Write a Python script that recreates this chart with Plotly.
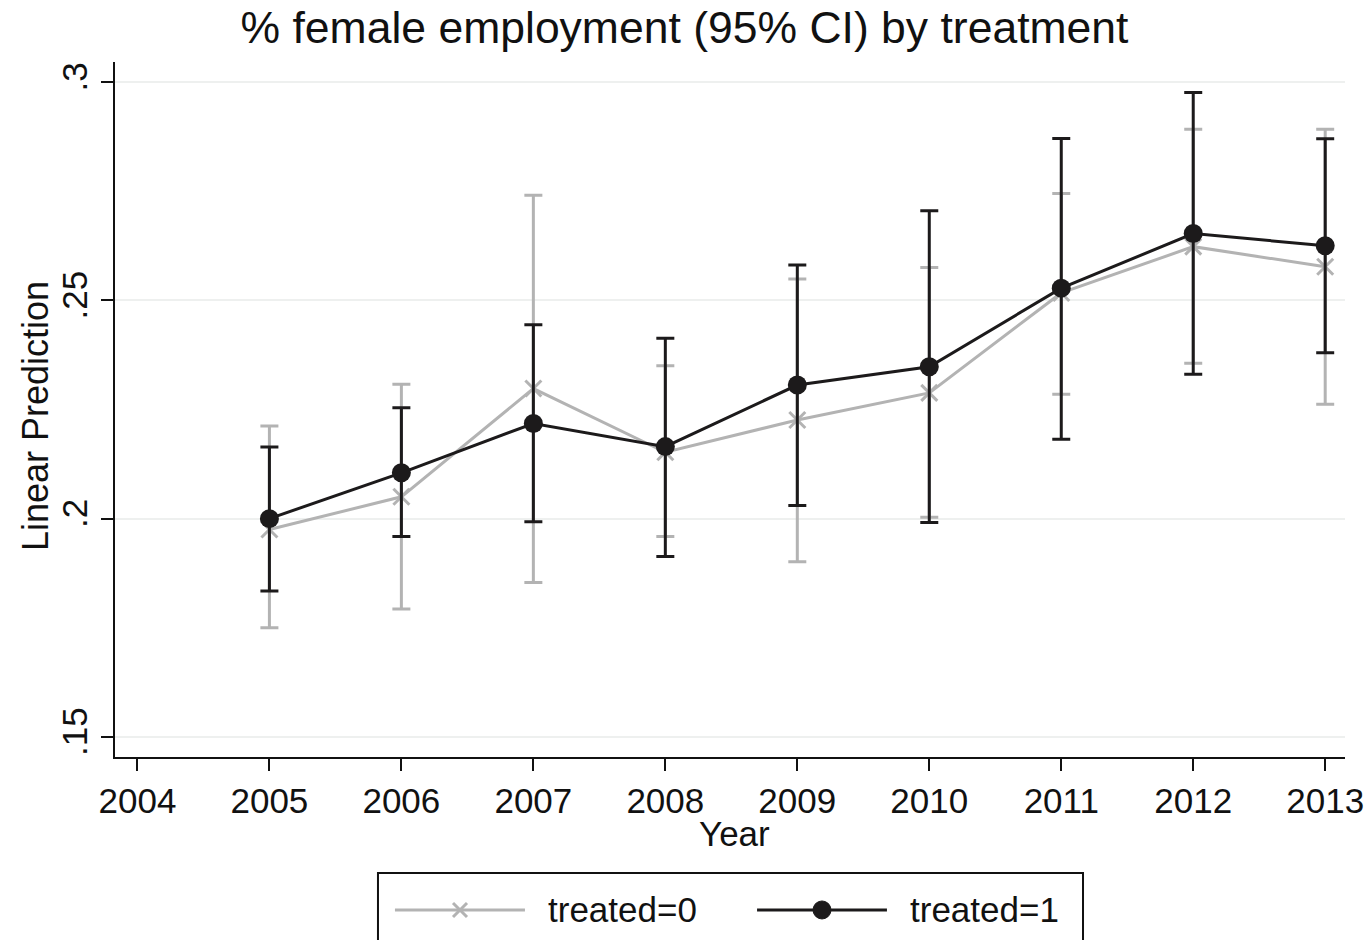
import plotly.graph_objects as go

years = [2005, 2006, 2007, 2008, 2009, 2010, 2011, 2012, 2013]

# treated = 0 (grey, x markers)
t0_mean = [0.1975, 0.2050, 0.2298, 0.2152, 0.2226, 0.2288, 0.2517, 0.2623, 0.2577]
t0_upper = [0.2212, 0.2308, 0.2741, 0.2350, 0.2549, 0.2575, 0.2745, 0.2892, 0.2892]
t0_lower = [0.1750, 0.1793, 0.1854, 0.1959, 0.1901, 0.2003, 0.2285, 0.2356, 0.2262]

# treated = 1 (black, filled circles)
t1_mean = [0.2000, 0.2105, 0.2218, 0.2165, 0.2306, 0.2348, 0.2528, 0.2653, 0.2625]
t1_upper = [0.2164, 0.2254, 0.2444, 0.2413, 0.2581, 0.2705, 0.2871, 0.2976, 0.2870]
t1_lower = [0.1834, 0.1959, 0.1993, 0.1913, 0.2030, 0.1991, 0.2182, 0.2331, 0.2380]

series_names = ["treated=0", "treated=1"]
x_ticks = list(range(2004, 2014))
y_ticks = [0.15, 0.20, 0.25, 0.30]
y_tick_text = [".15", ".2", ".25", ".3"]

GREY = "#b3b3b3"
BLACK = "#1c1a1b"
FONT = "Liberation Sans, Arial, sans-serif"

fig = go.Figure()

fig.add_trace(go.Scatter(
    x=years, y=t0_mean, name=series_names[0], mode="lines+markers", showlegend=False,
    line=dict(color=GREY, width=3),
    marker=dict(symbol="x-thin", size=16, line=dict(color=GREY, width=3), color=GREY),
    error_y=dict(type="data", symmetric=False,
                 array=[u - m for u, m in zip(t0_upper, t0_mean)],
                 arrayminus=[m - l for m, l in zip(t0_mean, t0_lower)],
                 color=GREY, thickness=3, width=9),
))

fig.add_trace(go.Scatter(
    x=years, y=t1_mean, name=series_names[1], mode="lines+markers", showlegend=False,
    line=dict(color=BLACK, width=3),
    marker=dict(symbol="circle", size=19, color=BLACK),
    error_y=dict(type="data", symmetric=False,
                 array=[u - m for u, m in zip(t1_upper, t1_mean)],
                 arrayminus=[m - l for m, l in zip(t1_mean, t1_lower)],
                 color=BLACK, thickness=3, width=9),
))

# ---- legend drawn as a boxed key below the plot (paper coordinates) ----
PW, PH = 1230.0, 695.0  # plot area size in px
def px(dx):
    return dx / PW
def py(dy):
    return dy / PH

leg_y = -0.2201
shapes = [
    dict(type="rect", xref="paper", yref="paper", x0=0.2138, x1=0.7870, y0=-0.30, y1=-0.1669,
         line=dict(color="#111111", width=2), fillcolor="white", layer="above"),
    # treated=0 key
    dict(type="line", xref="paper", yref="paper", x0=0.2276, x1=0.3333, y0=leg_y, y1=leg_y,
         line=dict(color=GREY, width=3)),
    dict(type="line", xref="paper", yref="paper", x0=0.2805 - px(7), x1=0.2805 + px(7),
         y0=leg_y - py(7), y1=leg_y + py(7), line=dict(color=GREY, width=3)),
    dict(type="line", xref="paper", yref="paper", x0=0.2805 - px(7), x1=0.2805 + px(7),
         y0=leg_y + py(7), y1=leg_y - py(7), line=dict(color=GREY, width=3)),
    # treated=1 key
    dict(type="line", xref="paper", yref="paper", x0=0.5220, x1=0.6276, y0=leg_y, y1=leg_y,
         line=dict(color=BLACK, width=3)),
    dict(type="circle", xref="paper", yref="paper", x0=0.5748 - px(9), x1=0.5748 + px(9),
         y0=leg_y - py(9), y1=leg_y + py(9), line=dict(color=BLACK, width=1), fillcolor=BLACK),
]
annotations = [
    dict(text=series_names[0], xref="paper", yref="paper", x=0.3500, y=leg_y,
         xanchor="left", yanchor="middle", showarrow=False,
         font=dict(size=35, family=FONT, color="#111111")),
    dict(text=series_names[1], xref="paper", yref="paper", x=0.6445, y=leg_y,
         xanchor="left", yanchor="middle", showarrow=False,
         font=dict(size=35, family=FONT, color="#111111")),
    dict(text="Year", xref="paper", yref="paper", x=0.504, y=-0.1094,
         xanchor="center", yanchor="middle", showarrow=False,
         font=dict(size=35, family=FONT, color="#111111")),
    dict(text="Linear Prediction", xref="paper", yref="paper", x=-0.065, y=0.4906,
         xanchor="center", yanchor="middle", showarrow=False, textangle=-90,
         font=dict(size=36, family=FONT, color="#111111")),
]

fig.update_layout(
    width=1369, height=940,
    margin=dict(l=115, r=24, t=62, b=183),
    paper_bgcolor="white", plot_bgcolor="white",
    font=dict(family=FONT, size=35, color="#111111"),
    title=dict(text="% female employment (95% CI) by treatment",
               x=0.5, xanchor="center", y=0.9713, yanchor="middle",
               font=dict(size=44.5, family=FONT, color="#111111")),
    showlegend=False,
    shapes=shapes,
    annotations=annotations,
)

fig.update_xaxes(
    range=[2003.83, 2013.15], tickmode="array", tickvals=x_ticks,
    ticks="outside", ticklen=12, tickwidth=2, tickcolor="#111111",
    showline=True, linecolor="#111111", linewidth=2,
    showgrid=False, zeroline=False, automargin=False,
    tickfont=dict(size=35),
)
fig.update_yaxes(
    range=[0.1454, 0.3046], tickmode="array", tickvals=y_ticks, ticktext=y_tick_text,
    ticks="outside", ticklen=12, tickwidth=2, tickcolor="#111111",
    showline=True, linecolor="#111111", linewidth=2,
    showgrid=True, gridcolor="#eef0ef", gridwidth=2, zeroline=False,
    tickangle=-90, automargin=False,
    tickfont=dict(size=35),
)

fig.write_html("out.html",
               config={"displayModeBar": False},
               post_script="document.body.style.margin='0px';document.body.style.overflow='hidden';")
